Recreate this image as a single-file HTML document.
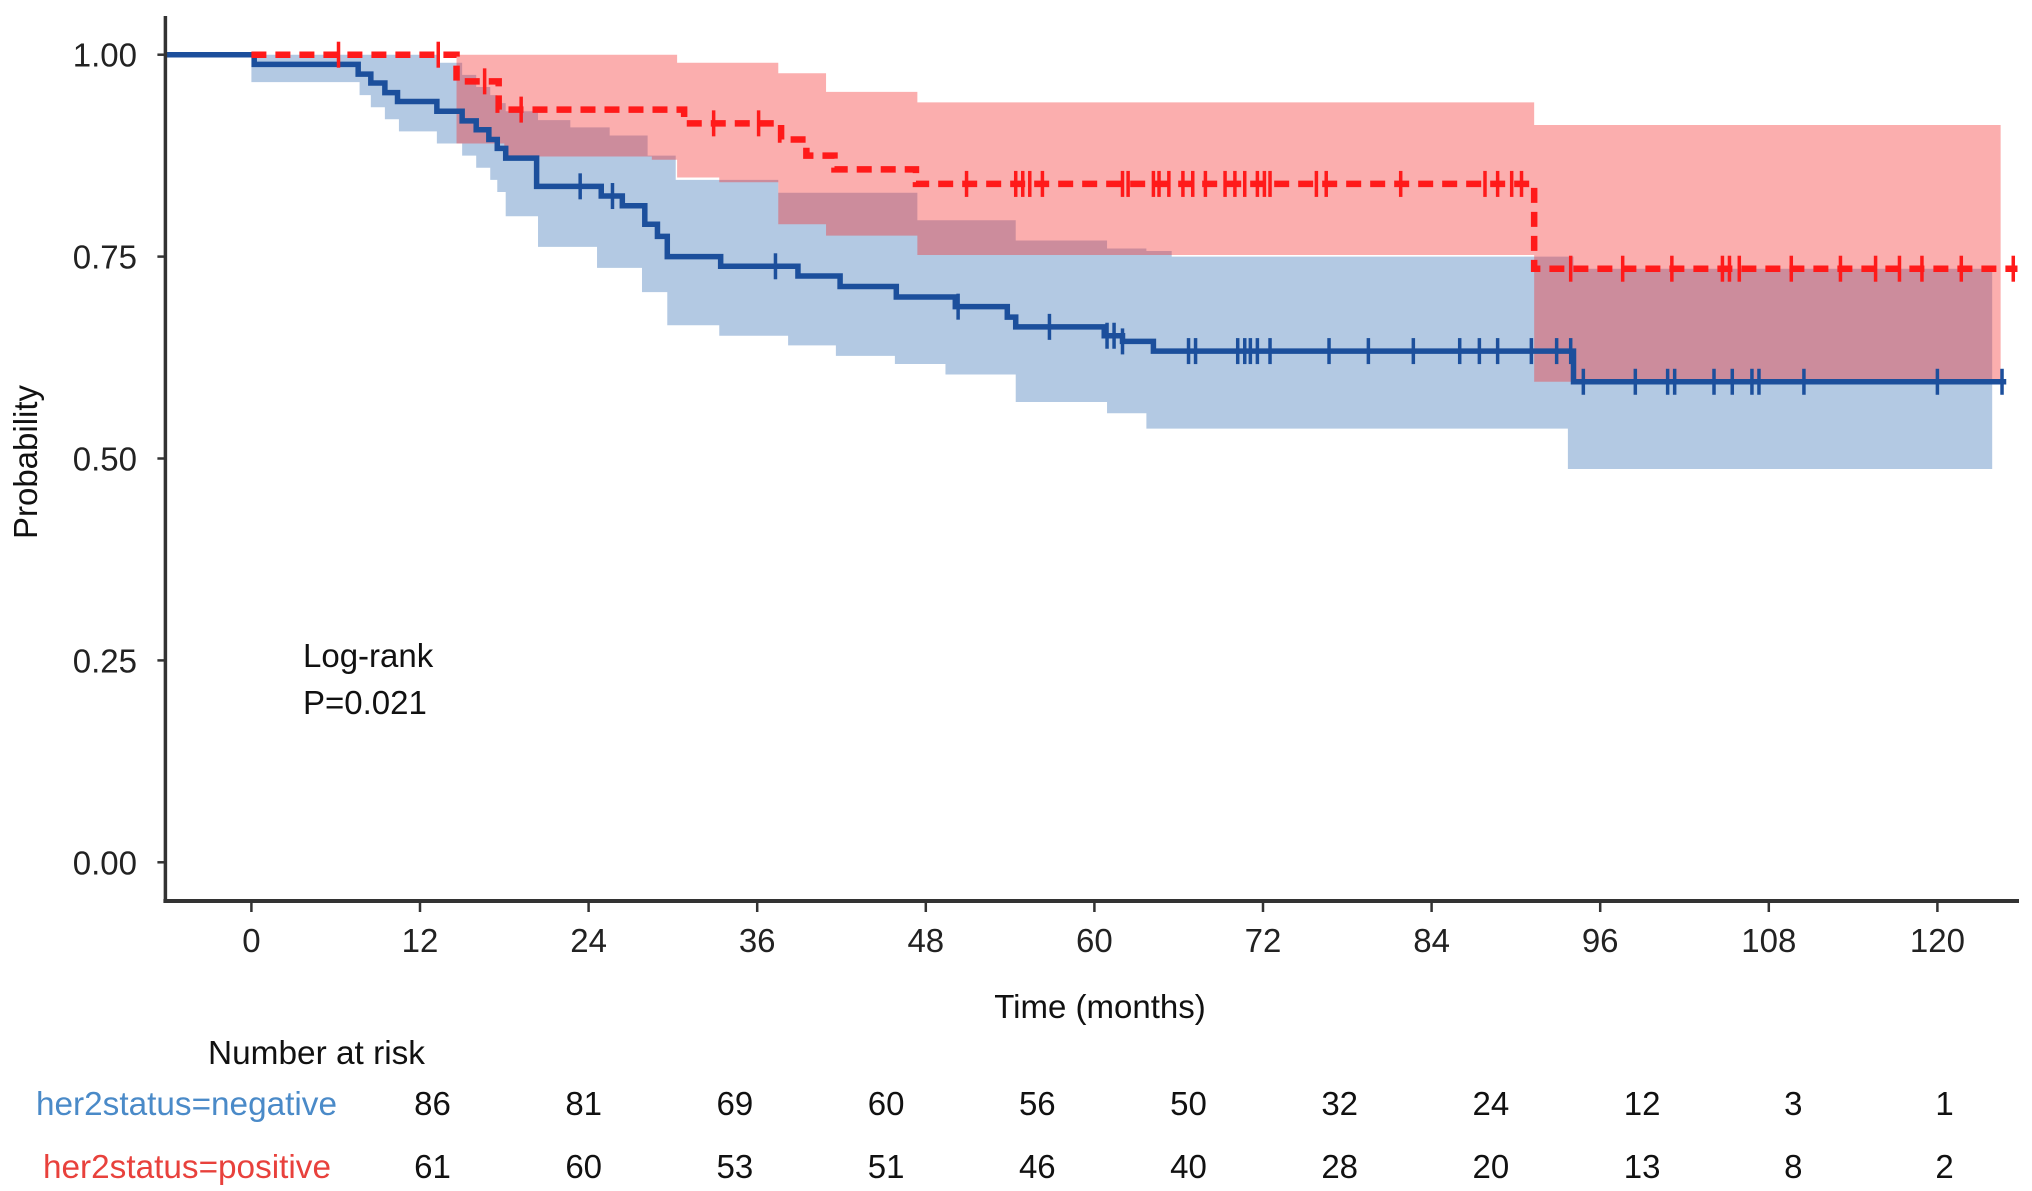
<!DOCTYPE html>
<html><head><meta charset="utf-8"><style>
html,body{margin:0;padding:0;background:#fff;}
svg{display:block;font-family:"Liberation Sans",sans-serif;}
</style></head><body>
<svg id="chart" width="2032" height="1191" viewBox="0 0 2032 1191" xmlns="http://www.w3.org/2000/svg">
<g id="bands"></g>
<g id="lines"></g>
<g id="axes"></g>
<g id="texts"></g>
</svg>
<script>
// ---- data ----
const xTicks = [0,12,24,36,48,60,72,84,96,108,120];
const yTicks = [0,0.25,0.5,0.75,1];
const yTickLabels = ["0.00","0.25","0.50","0.75","1.00"];
const negTimes = [0.2,7.6,8.5,9.5,10.4,13.2,15.0,16.0,16.9,17.5,18.1,20.3,24.9,26.4,28.0,28.9,29.6,33.4,38.9,41.9,45.9,50.1,53.8,54.4,60.7,62.0,64.2,94.1];
const negSurv  = [0.988,0.976,0.965,0.953,0.942,0.93,0.918,0.907,0.895,0.884,0.872,0.837,0.825,0.813,0.79,0.775,0.75,0.738,0.726,0.713,0.70,0.688,0.675,0.663,0.652,0.645,0.633,0.595];
const negEnd = 124.9;
const posTimes = [14.6,17.6,30.8,37.7,39.5,41.5,47.3,91.3];
const posSurv  = [0.967,0.932,0.915,0.895,0.875,0.858,0.84,0.735];
const posEnd = 125.7;
const negCens = [23.4,25.7,37.3,50.3,56.8,60.9,61.4,62.0,66.7,67.2,70.2,70.7,71.1,71.6,72.5,76.7,79.5,82.7,86.0,87.4,88.7,91.1,92.9,93.9,94.8,98.5,100.8,101.3,104.1,105.4,106.8,107.3,110.5,120.0,124.6];
const posCens = [6.2,13.3,16.6,19.2,32.9,36.1,50.9,54.4,54.9,55.4,56.3,62.0,62.4,64.2,64.6,65.3,66.3,67.0,67.9,69.3,70.0,70.7,71.6,72.1,72.5,75.8,76.5,81.8,87.8,88.7,89.7,90.4,93.9,97.6,101.1,104.7,105.2,105.9,109.6,113.1,115.6,117.3,118.9,121.7,125.4];
const negBandTimes = [0,7.7,8.5,9.5,10.5,13.2,15,16,17,17.5,18.1,20.4,22.7,24.6,25.5,27.8,28.2,29.6,30.2,33.3,37.5,38.2,41.6,45.8,47.4,49.4,54.4,60.9,63.7,65.5,93.7,94.1];
const negBandUpper = [1,1,1,1,1,0.99,0.975,0.96,0.95,0.94,0.93,0.919,0.91,0.91,0.90,0.90,0.875,0.875,0.845,0.845,0.829,0.829,0.829,0.829,0.795,0.795,0.77,0.76,0.757,0.75,0.75,0.735];
const negBandLower = [0.966,0.95,0.935,0.92,0.905,0.89,0.875,0.86,0.845,0.83,0.80,0.762,0.762,0.736,0.736,0.706,0.706,0.665,0.665,0.652,0.652,0.64,0.627,0.617,0.617,0.604,0.57,0.556,0.537,0.537,0.487,0.487];
const negBandEnd = 123.9;
const posBandTimes = [14.6,18,28.5,30.3,33.3,37.5,40.9,47.4,91.3];
const posBandUpper = [1,1,1,0.99,0.99,0.977,0.954,0.941,0.913];
const posBandLower = [0.89,0.874,0.87,0.848,0.842,0.79,0.776,0.752,0.595];
const posBandEnd = 124.5;
const riskNeg = [86,81,69,60,56,50,32,24,12,3,1];
const riskPos = [61,60,53,51,46,40,28,20,13,8,2];

// ---- scales ----
const X0=251.4, PX=14.05, Y0=862.3, PY=807.6, AXL=165.4, AXB=901, AXR=2019, AXT=16;
const xs = m => X0 + m*PX;
const ys = p => Y0 - p*PY;
const xMin = (AXL - X0)/PX;
const NS="http://www.w3.org/2000/svg";
function mk(tag, parent, attrs){const e=document.createElementNS(NS,tag);for(const k in attrs)e.setAttribute(k,attrs[k]);parent.appendChild(e);return e;}
function stepPath(t0, times, vals, end, v0){
  let d=`M${xs(t0)},${ys(v0)}`;
  times.forEach((t,i)=>{d+=` H${xs(t)} V${ys(vals[i])}`;});
  d+=` H${xs(end)}`;return d;
}
function bandPath(times, up, lo, end){
  let d=`M${xs(times[0])},${ys(up[0])}`;
  for(let i=0;i<times.length;i++){const tn=i+1<times.length?times[i+1]:end;d+=` V${ys(up[i])} H${xs(tn)}`;}
  for(let i=times.length-1;i>=0;i--){d+=` V${ys(lo[i])} H${xs(times[i])}`;}
  return d+" Z";
}
function survAt(t, times, vals){let v=1;times.forEach((tt,i)=>{if(t>=tt)v=vals[i];});return v;}

const bands=document.getElementById('bands'), lines=document.getElementById('lines'), axes=document.getElementById('axes'), texts=document.getElementById('texts');

let e=mk('path',bands,{d:bandPath(negBandTimes,negBandUpper,negBandLower,negBandEnd),fill:'#b3c9e3'});


e=mk('path',bands,{d:bandPath(posBandTimes,posBandUpper,posBandLower,posBandEnd),fill:'rgb(244,42,42)','fill-opacity':0.38});



e=mk('path',lines,{d:stepPath(xMin,negTimes,negSurv,negEnd,1),fill:'none',stroke:'#1c4f9c','stroke-width':5.5});


negCens.forEach(t=>{const y=ys(survAt(t,negTimes,negSurv));const c=mk('line',lines,{x1:xs(t),x2:xs(t),y1:y-13,y2:y+13,stroke:'#1c4f9c','stroke-width':3.5});

});

e=mk('path',lines,{d:stepPath(0,posTimes,posSurv,posEnd,1),fill:'none',stroke:'#ff1a1a','stroke-width':6.5,'stroke-dasharray':'15 9'});


posCens.forEach(t=>{const y=ys(survAt(t,posTimes,posSurv));const c=mk('line',lines,{x1:xs(t),x2:xs(t),y1:y-13,y2:y+13,stroke:'#ff1a1a','stroke-width':3.5});

});

// axes
e=mk('line',axes,{x1:AXL,x2:AXL,y1:AXT,y2:AXB+2,stroke:'#333','stroke-width':3.5});


e=mk('line',axes,{x1:AXL-2,x2:AXR,y1:AXB,y2:AXB,stroke:'#333','stroke-width':4});


xTicks.forEach(t=>{
  const tk=mk('line',axes,{x1:xs(t),x2:xs(t),y1:AXB,y2:AXB+11,stroke:'#333','stroke-width':2.5});
  
  
  const lb=mk('text',axes,{x:xs(t),y:952,'text-anchor':'middle','font-size':33,fill:'#222'});lb.textContent=t;
  
  
});
yTicks.forEach((p,i)=>{
  const tk=mk('line',axes,{x1:AXL-8,x2:AXL,y1:ys(p),y2:ys(p),stroke:'#333','stroke-width':2.5});
  
  
  const lb=mk('text',axes,{x:137,y:ys(p)+12,'text-anchor':'end','font-size':33,fill:'#222'});lb.textContent=yTickLabels[i];
  
  
});

function txt(s,attrs,name){const t=mk('text',texts,Object.assign({'font-size':33,fill:'#111'},attrs));t.textContent=s;return t;}
txt('Probability',{x:0,y:0,transform:'translate(37,462) rotate(-90)','text-anchor':'middle'},'y-axis-title');
txt('Time (months)',{x:1100,y:1018,'text-anchor':'middle'},'x-axis-title');
txt('Log-rank',{x:303,y:667},'logrank-label');
txt('P=0.021',{x:303,y:714},'p-value-label');
txt('Number at risk',{x:208,y:1064,textLength:217,lengthAdjust:'spacingAndGlyphs'},'risk-table-title');
txt('her2status=negative',{x:36,y:1115,fill:'#4a8ac8',textLength:301,lengthAdjust:'spacingAndGlyphs'},'risk-row-negative-label');
txt('her2status=positive',{x:43,y:1178,fill:'#e8413c',textLength:288,lengthAdjust:'spacingAndGlyphs'},'risk-row-positive-label');
const R0=432.5, RS=151.2;
riskNeg.forEach((v,i)=>txt(String(v),{x:R0+i*RS,y:1115,'text-anchor':'middle'},'risk-negative-value'));
riskPos.forEach((v,i)=>txt(String(v),{x:R0+i*RS,y:1178,'text-anchor':'middle'},'risk-positive-value'));
</script>
</body></html>
